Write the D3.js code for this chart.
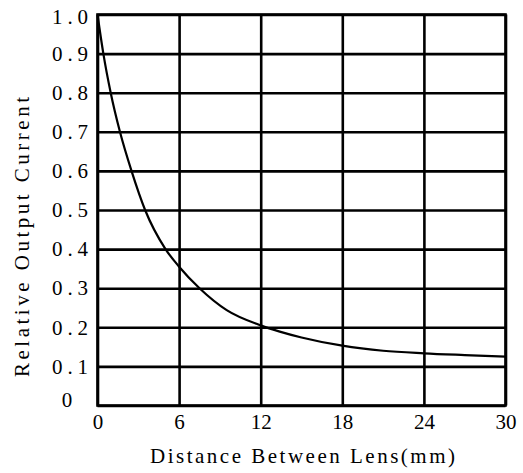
<!DOCTYPE html>
<html>
<head>
<meta charset="utf-8">
<script src="https://cdn.jsdelivr.net/npm/d3@7"></script>
<style>
  html, body { margin: 0; padding: 0; background: #fff; }
  svg { display: block; }
  text { font-family: "Liberation Serif", "DejaVu Serif", serif; fill: #000; }
</style>
</head>
<body>
<script>
// ---- data ----
const distance = [0, 0.43, 0.97, 1.65, 2.5, 3.5, 5.0, 6, 7.5, 9.5, 12, 13.4, 15, 18, 21, 24, 27, 30];
const current  = [1.0, 0.9, 0.8, 0.7, 0.6, 0.5, 0.4, 0.355, 0.3, 0.244, 0.205, 0.189, 0.174, 0.153, 0.140, 0.1335, 0.129, 0.125];
const xTicks = [0, 6, 12, 18, 24, 30];
const yTicks = [0, 0.1, 0.2, 0.3, 0.4, 0.5, 0.6, 0.7, 0.8, 0.9, 1.0];
const xTitle = "Distance Between Lens(mm)";
const yTitle = "Relative Output Current";

// ---- layout ----
const W = 523, H = 473;
const mLeft = 97.5, mRight = 505.5, mTop = 14.5, mBottom = 405.5;

const svg = d3.select("body").append("svg").attr("width", W).attr("height", H);

const x = d3.scaleLinear().domain([0, 30]).range([mLeft, mRight]);
const y = d3.scaleLinear().domain([0, 1]).range([mBottom, mTop]);

// vertical grid + x labels
const gx = svg.append("g").attr("transform", `translate(0,${mBottom})`)
  .call(d3.axisBottom(x).tickValues(xTicks).tickSize(-(mBottom - mTop)).tickPadding(9).tickFormat(d3.format("d")));
gx.select(".domain").remove();
gx.selectAll("line").attr("stroke", "#000").attr("stroke-width", 2.6);
gx.selectAll("text").attr("font-size", 21).attr("font-family", "Liberation Serif");

// horizontal grid + y labels
const gy = svg.append("g").attr("transform", `translate(${mLeft},0)`)
  .call(d3.axisLeft(y).tickValues(yTicks).tickSize(-(mRight - mLeft)).tickPadding(9.5)
    .tickFormat(d => d === 0 ? "0" : d3.format(".1f")(d)));
gy.select(".domain").remove();
gy.selectAll("line").attr("stroke", "#000").attr("stroke-width", 2.6);
gy.selectAll("text").attr("font-size", 21).attr("font-family", "Liberation Serif");
gy.selectAll(".tick").filter(d => d !== 0).select("text")
  .attr("textLength", 36).attr("lengthAdjust", "spacing");
gy.selectAll(".tick").filter(d => d === 0).select("text")
  .attr("text-anchor", "middle").attr("x", 67 - mLeft).attr("dy", "0.05em");
gy.selectAll(".tick").filter(d => d === 1).select("text").attr("dy", "0.42em");

// frame
svg.append("rect").attr("x", mLeft).attr("y", mTop)
  .attr("width", mRight - mLeft).attr("height", mBottom - mTop)
  .attr("fill", "none").attr("stroke", "#000").attr("stroke-width", 2.6);

// curve
const pts = distance.map((d, i) => [d, current[i]]);
svg.append("path").datum(pts)
  .attr("fill", "none").attr("stroke", "#000").attr("stroke-width", 2.2)
  .attr("d", d3.line().x(d => x(d[0])).y(d => y(d[1])).curve(d3.curveMonotoneX));

// titles
svg.append("text").attr("x", 302.5).attr("y", 463).attr("text-anchor", "middle")
  .attr("font-size", 21).attr("textLength", 305).attr("lengthAdjust", "spacing").text(xTitle);
svg.append("text").attr("transform", "translate(29,237) rotate(-90)").attr("text-anchor", "middle")
  .attr("font-size", 21).attr("textLength", 280).attr("lengthAdjust", "spacing").text(yTitle);
</script>
</body>
</html>
